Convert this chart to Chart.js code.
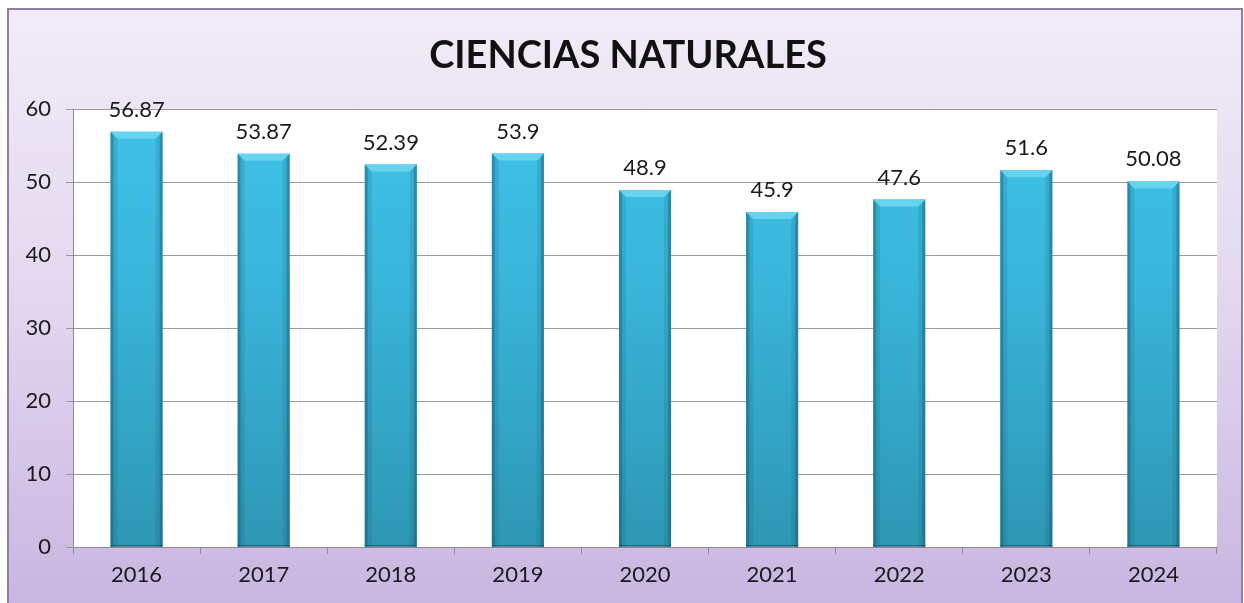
<!DOCTYPE html>
<html>
<head>
<meta charset="utf-8">
<script src="https://cdn.jsdelivr.net/npm/chart.js@4.4.1/dist/chart.umd.min.js"></script>
<style>
  html, body { margin: 0; padding: 0; background: #ffffff; width: 1244px; height: 603px; overflow: hidden; }
  #frame {
    position: absolute; left: 7px; top: 8px; width: 1232px; height: 600px;
    border: 2px solid #8f7fa6;
    background: linear-gradient(to bottom, #f1ecf7 0%, #e4d9f0 45%, #c9b5e1 100%);
  }
  #wrap { position: absolute; left: 0; top: 0; width: 1244px; height: 603px; }
</style>
</head>
<body>
<div id="frame"></div>
<div id="wrap"><canvas id="grafico" width="1244" height="603"></canvas></div>
<script>
// Datos del gráfico
const anios = ['2016', '2017', '2018', '2019', '2020', '2021', '2022', '2023', '2024'];
const puntajes = [56.87, 53.87, 52.39, 53.9, 48.9, 45.9, 47.6, 51.6, 50.08];
const etiquetas = ['56.87', '53.87', '52.39', '53.9', '48.9', '45.9', '47.6', '51.6', '50.08'];
const titulo = 'CIENCIAS NATURALES';

const FUENTE = 'Lato, "Open Sans", sans-serif';

// Fondo blanco del área de trazado
const fondoArea = {
    id: 'fondoArea',
    beforeDraw(chart) {
        const { ctx, chartArea: a } = chart;
        ctx.save();
        ctx.fillStyle = '#ffffff';
        ctx.fillRect(a.left, a.top, a.right - a.left, a.bottom - a.top);
        ctx.restore();
    }
};

// Título centrado
const tituloPlugin = {
    id: 'tituloPlugin',
    afterDraw(chart) {
        const ctx = chart.ctx;
        ctx.save();
        ctx.font = 'bold 38px ' + FUENTE;
        ctx.fillStyle = '#111111';
        ctx.textAlign = 'center';
        ctx.textBaseline = 'middle';
        ctx.fillText(titulo, 628, 56);
        ctx.restore();
    }
};

// Degradado vertical de las barras
function colorBarra(context) {
    const chart = context.chart;
    const a = chart.chartArea;
    if (!a) return '#38b4d8';
    const g = chart.ctx.createLinearGradient(0, a.top, 0, a.bottom);
    g.addColorStop(0, '#3fc3e7');
    g.addColorStop(0.4, '#39b5da');
    g.addColorStop(1, '#2e97b4');
    return g;
}

// Bisel: tapa clara arriba y bordes oscuros a los lados
const barrasBisel = {
    id: 'barrasBisel',
    afterDatasetsDraw(chart) {
        const ctx = chart.ctx;
        const base = chart.scales.y.getPixelForValue(0);
        ctx.save();
        chart.getDatasetMeta(0).data.forEach(bar => {
            const x0 = bar.x - bar.width / 2;
            const x1 = bar.x + bar.width / 2;
            const top = bar.y;
            const b = 7;
            // bordes laterales
            ctx.fillStyle = 'rgba(20,80,100,0.45)';
            ctx.fillRect(x0, top, 3, base - top);
            ctx.fillRect(x1 - 3, top, 3, base - top);
            ctx.fillStyle = 'rgba(20,80,100,0.15)';
            ctx.fillRect(x0 + 3, top, 4, base - top);
            ctx.fillRect(x1 - 7, top, 4, base - top);
            // tapa superior
            ctx.beginPath();
            ctx.moveTo(x0, top);
            ctx.lineTo(x1, top);
            ctx.lineTo(x1 - b, top + b);
            ctx.lineTo(x0 + b, top + b);
            ctx.closePath();
            ctx.fillStyle = '#66d3ef';
            ctx.fill();
            // linea inferior oscura
            ctx.fillStyle = 'rgba(20,70,90,0.5)';
            ctx.fillRect(x0, base - 2, x1 - x0, 2);
        });
        ctx.restore();
    }
};

// Etiquetas de valor sobre cada barra
const etiquetasValor = {
    id: 'etiquetasValor',
    afterDatasetsDraw(chart) {
        const ctx = chart.ctx;
        ctx.save();
        ctx.font = '22px ' + FUENTE;
        ctx.fillStyle = '#1a1a1a';
        ctx.textAlign = 'center';
        ctx.textBaseline = 'alphabetic';
        chart.getDatasetMeta(0).data.forEach((bar, i) => {
            ctx.fillText(etiquetas[i], bar.x, bar.y - 15);
        });
        ctx.restore();
    }
};

new Chart(document.getElementById('grafico'), {
    type: 'bar',
    data: {
        labels: anios,
        datasets: [{
            data: puntajes,
            backgroundColor: colorBarra,
            borderWidth: 0,
            categoryPercentage: 1,
            barPercentage: 0.41
        }]
    },
    options: {
        responsive: false,
        animation: false,
        events: [],
        layout: { padding: { top: 109, right: 27, left: 0, bottom: 0 } },
        plugins: {
            legend: { display: false },
            tooltip: { enabled: false },
            title: { display: false }
        },
        scales: {
            x: {
                grid: {
                    offset: true,
                    drawOnChartArea: false,
                    drawTicks: true,
                    tickLength: 7,
                    color: '#8c8c8c'
                },
                border: { color: '#8c8c8c', width: 1 },
                ticks: {
                    color: '#1a1a1a',
                    font: { family: FUENTE, size: 22 },
                    padding: 8
                },
                afterFit(scale) { scale.height = 56; }
            },
            y: {
                min: 0,
                max: 60,
                ticks: {
                    stepSize: 10,
                    color: '#1a1a1a',
                    font: { family: FUENTE, size: 22 },
                    padding: 15
                },
                grid: {
                    color: '#9a9a9a',
                    tickLength: 7,
                    drawTicks: true
                },
                border: { color: '#8c8c8c', width: 1 },
                afterFit(scale) { scale.width = 73; }
            }
        }
    },
    plugins: [fondoArea, barrasBisel, etiquetasValor, tituloPlugin]
});
</script>
</body>
</html>
